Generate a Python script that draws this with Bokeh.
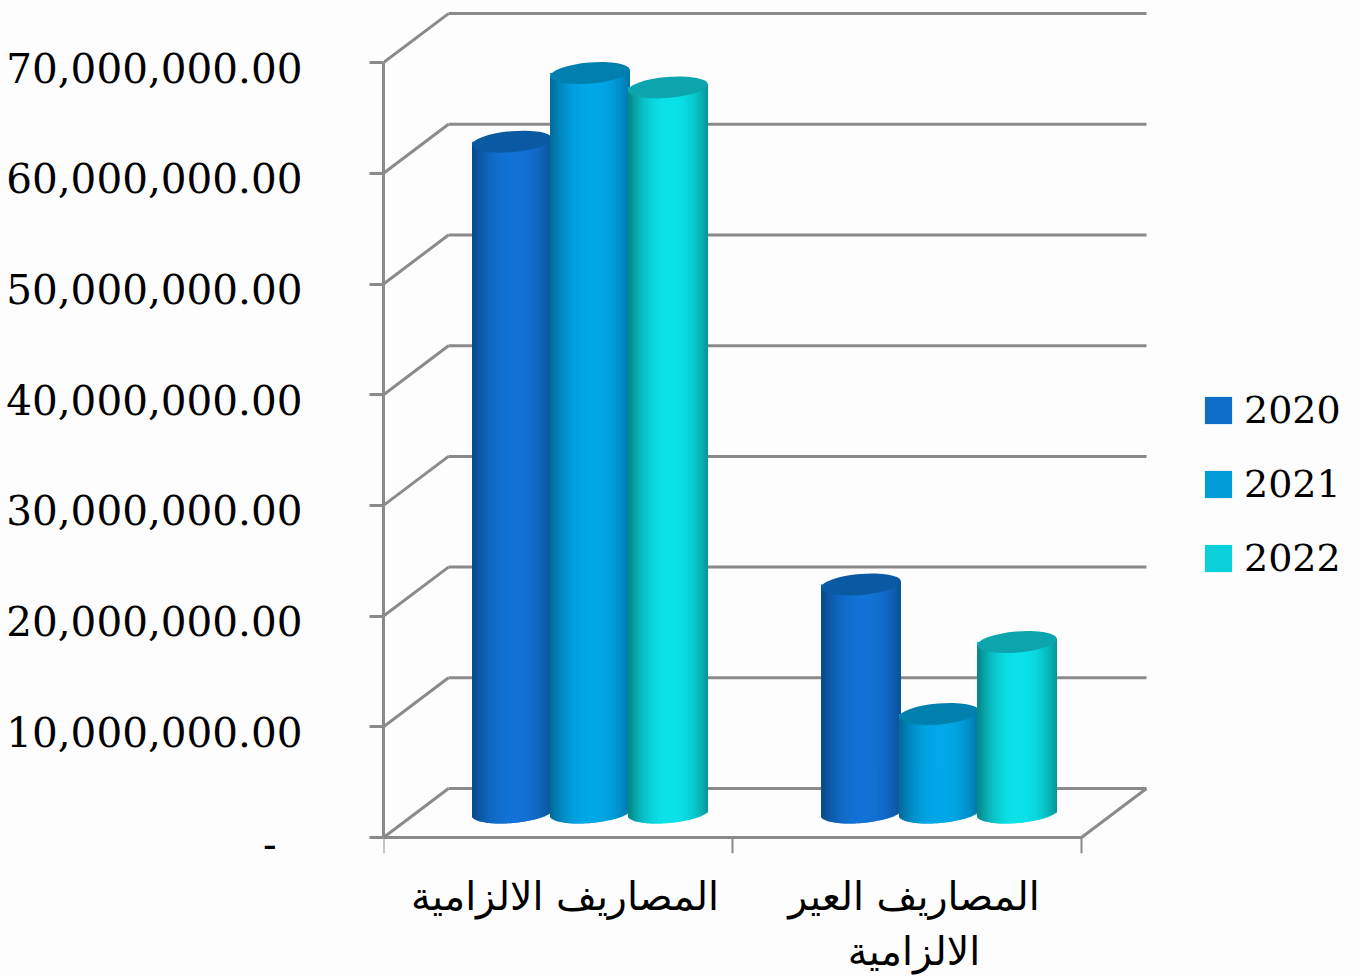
import numpy as np
from bokeh.plotting import figure
from bokeh.embed import file_html
from bokeh.resources import INLINE
from bokeh.models import (LinearAxis, Range1d, FixedTicker, Legend, LegendItem,
                          ColumnDataSource)

# ---- data -------------------------------------------------------------
series_names = ["2020", "2021", "2022"]
values_2020 = [60600000, 20600000]
values_2021 = [66800000, 8900000]
values_2022 = [65500000, 15400000]
y_ticks = [0, 10000000, 20000000, 30000000, 40000000, 50000000, 60000000, 70000000]
y_tick_labels = ["-\u00a0\u00a0", "10,000,000.00", "20,000,000.00", "30,000,000.00",
                 "40,000,000.00", "50,000,000.00", "60,000,000.00", "70,000,000.00"]
cat_line1 = ["المصاريف الالزامية", "المصاريف العير"]
cat_line2 = ["\u00a0", "الالزامية"]

# ---- styling ------------------------------------------------------------
bright = ["#1272D6", "#00A8E8", "#0AE2E8"]
dark = ["#0A4C8F", "#026E9E", "#068A8C"]
top_col = ["#0A5AA3", "#0080AE", "#0CA5AD"]
legend_col = ["#0F6FC6", "#009DD9", "#0BD0D9"]
GRID = "#8A8A8A"
BG = "#FDFDFD"
SERIF = "DejaVu Serif"
ARABIC = "DejaVu Sans"

PX_PER_UNIT_X = 349.0
PX_PER_10M = 110.7
Y_PER_PX = 1e7 / PX_PER_10M
X_PER_PX = 1 / PX_PER_UNIT_X
DEPTH_X = 65 * X_PER_PX
DEPTH_Y = 49 * Y_PER_PX
MID_X = 32 * X_PER_PX
MID_Y = 25 * Y_PER_PX
STEP = 78 * X_PER_PX
HALF_W_PX = 40.0
TILT = 0.085
ELL_B = 10.5
N = 64
LW = 3

x_end = 977 * X_PER_PX
y_end = 837 * Y_PER_PX
y_start = -16 * Y_PER_PX
cat_ticks = [0.52, 1.52]

p = figure(width=1360, height=976, output_backend="svg", toolbar_location=None,
           x_range=Range1d(0, x_end), y_range=Range1d(y_start, y_end),
           min_border_left=383, min_border_right=0, min_border_top=0, min_border_bottom=123,
           x_axis_type=None, y_axis_type=None,
           background_fill_color=BG, border_fill_color=BG, outline_line_color=None)
p.grid.visible = False

# ---- 3D walls -------------------------------------------------------------
grid_vals = np.array(y_ticks, dtype=float)
p.segment(x0=[DEPTH_X] * len(grid_vals), y0=grid_vals + DEPTH_Y,
          x1=[2 + DEPTH_X] * len(grid_vals), y1=grid_vals + DEPTH_Y,
          line_color=GRID, line_width=LW)
p.segment(x0=[0] * len(grid_vals), y0=grid_vals,
          x1=[DEPTH_X] * len(grid_vals), y1=grid_vals + DEPTH_Y,
          line_color=GRID, line_width=LW)
p.segment(x0=[2], y0=[0], x1=[2 + DEPTH_X], y1=[DEPTH_Y], line_color=GRID, line_width=LW)

# ---- cylinders ------------------------------------------------------------
def hex2rgb(h):
    return np.array([int(h[i:i + 2], 16) for i in (1, 3, 5)], dtype=float)

def shade(u, s):
    t = np.clip(1 - np.abs(u - 0.05) ** 2.3, 0, 1)
    c = hex2rgb(dark[s]) * (1 - t) + hex2rgb(bright[s]) * t
    return "#%02X%02X%02X" % tuple(int(round(v)) for v in c)

all_series = [values_2020, values_2021, values_2022]
edges = np.linspace(-1, 1, N + 1)
mids = (edges[:-1] + edges[1:]) / 2
overlap = np.minimum(edges[1:] + 2 / N, 1.0)
legend_items = []
for s, vals in enumerate(all_series):
    centers = [c + 0.5 + MID_X + (s - 1) * STEP for c in range(len(vals))]
    base = p.vbar(x=centers, bottom=[MID_Y] * len(vals), top=[v + MID_Y for v in vals],
                  width=2 * HALF_W_PX * X_PER_PX, fill_color=legend_col[s], line_color=None)
    legend_items.append(LegendItem(label=series_names[s], renderers=[base]))
    for cx, v in zip(centers, vals):
        rise = TILT * HALF_W_PX * mids * Y_PER_PX
        sag = ELL_B * np.sqrt(np.clip(1 - mids ** 2, 0, 1)) * Y_PER_PX
        cols = [shade(u, s) for u in mids]
        src = ColumnDataSource(dict(
            left=cx + edges[:-1] * HALF_W_PX * X_PER_PX,
            right=cx + overlap * HALF_W_PX * X_PER_PX,
            bottom=MID_Y + rise - sag,
            top=v + MID_Y + rise,
            color=cols))
        p.quad(left="left", right="right", bottom="bottom", top="top", source=src,
               fill_color="color", line_color=None)
    p.ellipse(x=centers, y=[v + MID_Y for v in vals], width=2 * HALF_W_PX, height=2 * ELL_B,
              width_units="screen", height_units="screen",
              angle=np.degrees(np.arctan(TILT)), angle_units="deg",
              fill_color=top_col[s], line_color=None)

# ---- axes -------------------------------------------------------------------
y_main = LinearAxis(ticker=FixedTicker(ticks=y_ticks), bounds=(0, 70000000),
                    major_label_overrides={t: "" for t in y_ticks},
                    axis_line_color=GRID, axis_line_width=LW,
                    major_tick_line_color=GRID, major_tick_line_width=LW,
                    major_tick_in=0, major_tick_out=14, minor_tick_out=0, minor_tick_in=0,
                    major_label_standoff=0, major_label_text_font_size="1px")
p.add_layout(y_main, "left")

p.extra_y_ranges["labels"] = Range1d(-10 * Y_PER_PX, 843 * Y_PER_PX)
y_labels = LinearAxis(y_range_name="labels", ticker=FixedTicker(ticks=y_ticks),
                      major_label_overrides=dict(zip(y_ticks, y_tick_labels)),
                      axis_line_color=None, major_tick_line_color=None, minor_tick_line_color=None,
                      major_label_standoff=61,
                      major_label_text_font=SERIF, major_label_text_font_size="40.5px",
                      major_label_text_color="#000000")
p.add_layout(y_labels, "left")

x_main = LinearAxis(ticker=FixedTicker(ticks=[0, 1, 2]), bounds=(0, 2),
                    fixed_location=0,
                    major_label_overrides={0: "", 1: "", 2: ""},
                    axis_line_color=GRID, axis_line_width=LW,
                    major_tick_line_color=GRID, major_tick_line_width=2,
                    major_tick_in=0, major_tick_out=16,
                    minor_tick_in=0, minor_tick_out=0,
                    major_label_standoff=0, major_label_text_font_size="1px")
p.add_layout(x_main, "below")

x_first = LinearAxis(ticker=FixedTicker(ticks=cat_ticks),
                     major_label_overrides={cat_ticks[0]: cat_line1[0], cat_ticks[1]: cat_line1[1]},
                     axis_line_color=None, major_tick_line_color=None, minor_tick_line_color=None,
                     major_label_standoff=13,
                     major_label_text_font=ARABIC, major_label_text_font_size="39.5px",
                     major_label_text_color="#000000")
p.add_layout(x_first, "below")

x_second = LinearAxis(ticker=FixedTicker(ticks=cat_ticks),
                      major_label_overrides={cat_ticks[0]: cat_line2[0], cat_ticks[1]: cat_line2[1]},
                      axis_line_color=None, major_tick_line_color=None, minor_tick_line_color=None,
                      major_label_standoff=0,
                      major_label_text_font=ARABIC, major_label_text_font_size="39.5px",
                      major_label_text_color="#000000")
p.add_layout(x_second, "below")

# ---- legend -----------------------------------------------------------------
legend = Legend(items=legend_items, location=(818, 273),
                orientation="vertical", background_fill_alpha=0, border_line_color=None,
                glyph_width=34, glyph_height=34, label_standoff=9, spacing=30,
                padding=0, margin=0,
                label_text_font=SERIF, label_text_font_size="38px", label_text_color="#000000",
                label_height=34)
p.add_layout(legend, "center")

open("out.html", "w").write(file_html(p, INLINE))
